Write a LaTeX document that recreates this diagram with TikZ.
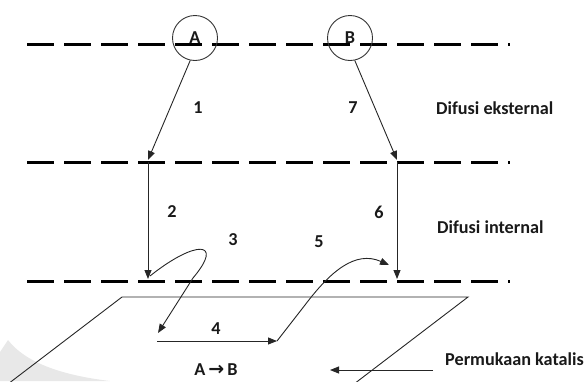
\documentclass[tikz,border=0pt]{standalone}
\usepackage{fontspec}
\setmainfont{Carlito}
\newfontfamily\symfont{DejaVu Sans}
\usetikzlibrary{arrows.meta}
\begin{document}
\begin{tikzpicture}[x=1pt,y=-1pt,
  layer/.style={line width=3pt,draw=black,dash pattern=on 27pt off 10pt},
  thin/.style={line width=0.9pt,draw=black!85},
  flow/.style={thin,-{Triangle[length=9pt,width=7pt]}},
  lbl/.style={font=\fontsize{18.2}{21}\selectfont\bfseries,text=black!90,inner sep=0pt},
  mol/.style={circle,draw=black!80,line width=0.9pt,minimum size=45pt,inner sep=0pt,
    font=\fontsize{18.2}{21}\selectfont\bfseries,text=black!90}]
\useasboundingbox (0,0) rectangle (585,381);

% faint mark in the lower left corner
\fill[black!9] (0,352) -- (8,340) .. controls (25,362) and (60,375) .. (110,381) -- (0,381) -- cycle;

% boundary layers
\coordinate (t0) at (27,44);  \coordinate (t1) at (510,44);
\coordinate (m0) at (27,162); \coordinate (m1) at (510,162);
\coordinate (b0) at (27,281); \coordinate (b1) at (510,281);
\draw[layer] (t0) -- (t1);
\draw[layer] (m0) -- (m1);
\draw[layer] (b0) -- (b1);

% catalyst surface
\begin{scope}
  \clip (0,0) rectangle (585,381);
  \coordinate (s1) at (122,297);
  \coordinate (s2) at (468,297);
  \coordinate (s3) at (333,400);
  \coordinate (s0) at (-13,400);
  \draw[thin] (s0) -- (s1) -- (s2) -- (s3);
\end{scope}

% molecules
\node[mol] (A) at (195,38) {A};
\node[mol] (B) at (350,38) {B};

% transport steps
\coordinate (e1) at (148,160);
\coordinate (e7) at (397,160);
\coordinate (m2) at (148,162);
\coordinate (m6) at (397,162);
\coordinate (i2) at (148,279);
\coordinate (i6) at (397,279);
\draw[flow] (A.-102) -- (e1);
\draw[flow] (B.-78) -- (e7);
\draw[flow] (m2) -- (i2);
\draw[flow] (m6) -- (i6);

\coordinate (c3s) at (150,276);
\coordinate (c3m) at (193,278);
\coordinate (c3e) at (158,333);
\draw[flow] (c3s) .. controls (195,240) and (225,240) .. (c3m) -- (c3e);

\coordinate (h4s) at (157,341);
\coordinate (h4e) at (277,341);
\draw[flow] (h4s) -- (h4e);

\coordinate (c5m) at (305,305);
\coordinate (c5e) at (389,265);
\draw[flow] (h4e) -- (c5m) .. controls (330,272) and (355,250) .. (c5e);

% pointer to the surface
\coordinate (pk0) at (433,370);
\coordinate (pk1) at (330,370);
\draw[flow] (pk0) -- (pk1);

% labels
\node[lbl] (n1) at (198,108) {1};
\node[lbl] (n7) at (353,108) {7};
\node[lbl] (n2) at (172,212) {2};
\node[lbl] (n6) at (379,212) {6};
\node[lbl] (n3) at (233,240) {3};
\node[lbl] (n5) at (319,242) {5};
\node[lbl] (n4) at (216,329) {4};
\node[lbl] (rx) at (216,370) {A\,{\symfont\fontsize{19}{21}\selectfont\bfseries →}\,B};
\node[lbl,anchor=west] (de) at (436,108) {Difusi eksternal};
\node[lbl,anchor=west] (di) at (437,227) {Difusi internal};
\node[lbl,anchor=west] (pk) at (445,359) {Permukaan katalis};
\end{tikzpicture}
\end{document}
